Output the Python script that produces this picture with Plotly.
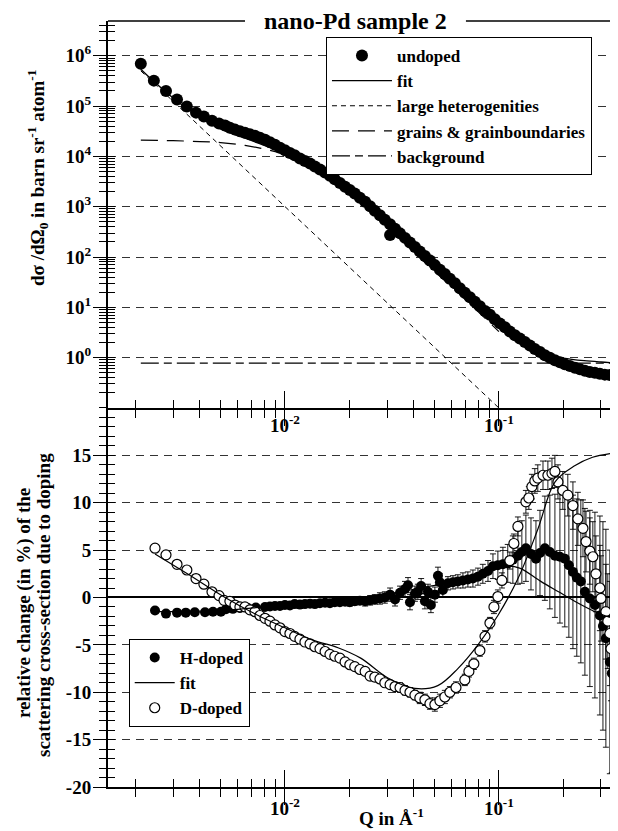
import plotly.graph_objects as go

# ---------------- data ----------------
# top panel: undoped sample, Q in 1/Angstrom, cross-section in barn/sr/atom
q_undoped = [0.00212, 0.00244, 0.00278, 0.00313, 0.00348, 0.00384, 0.00418, 0.00456, 0.00492, 0.00525,
             0.00553, 0.00584, 0.00616, 0.00650, 0.00686, 0.00724, 0.00764, 0.00807, 0.00851, 0.00898,
             0.00948, 0.0100, 0.01055, 0.0111, 0.01175, 0.0124, 0.0131, 0.0138, 0.01458, 0.0154,
             0.01623, 0.0171, 0.01807, 0.0191, 0.0201, 0.0212, 0.0224, 0.0237, 0.0250, 0.0263,
             0.0278, 0.0293, 0.0310, 0.0327, 0.0345, 0.0364, 0.0384, 0.0405, 0.0427, 0.0451,
             0.0476, 0.0502, 0.0530, 0.0559, 0.0590, 0.0623, 0.0657, 0.0693, 0.0732, 0.0772,
             0.0815, 0.0861, 0.0908, 0.0957, 0.1011, 0.1067, 0.1125, 0.1188, 0.1253, 0.1322,
             0.1396, 0.1472, 0.1556, 0.164, 0.173, 0.1827, 0.1928, 0.2032, 0.2148, 0.2265,
             0.2393, 0.2523, 0.2661, 0.281, 0.2965, 0.3126, 0.330, 0.348, 0.360, 0.0310]
s_undoped = [6.9e5, 3.2e5, 2.0e5, 1.35e5, 9.8e4, 7.4e4, 6.2e4, 5.1e4, 4.5e4, 4.1e4,
             3.7e4, 3.4e4, 3.16e4, 2.95e4, 2.75e4, 2.57e4, 2.34e4, 2.14e4, 1.9e4, 1.7e4,
             1.48e4, 1.32e4, 1.17e4, 1.05e4, 9.1e3, 8.1e3, 7.2e3, 6.3e3, 5.5e3, 4.8e3,
             4.1e3, 3.5e3, 2.95e3, 2.5e3, 2.14e3, 1.82e3, 1.51e3, 1.26e3, 1.02e3, 832,
             676, 550, 447, 363, 295, 240, 195, 158, 129, 105,
             85, 69, 56, 46, 37, 30, 24, 19.5, 15.8, 12.9,
             10.5, 8.5, 7.1, 5.8, 4.8, 4.0, 3.3, 2.8, 2.4, 2.04,
             1.74, 1.48, 1.29, 1.12, 1.0, 0.89, 0.81, 0.74, 0.68, 0.63,
             0.59, 0.55, 0.52, 0.50, 0.48, 0.46, 0.45, 0.43, 0.42, 275]

q_fit = [0.00212, 0.0025, 0.0030, 0.0035, 0.0040, 0.0050, 0.0060, 0.0070, 0.0080, 0.0090,
         0.0100, 0.0125, 0.015, 0.020, 0.025, 0.030, 0.035, 0.040, 0.050, 0.060,
         0.070, 0.080, 0.100, 0.120, 0.150, 0.170, 0.200, 0.250, 0.300, 0.350]
s_fit = [5.4e5, 2.8e5, 1.45e5, 8.8e4, 6.0e4, 3.5e4, 2.6e4, 2.05e4, 1.65e4, 1.38e4,
         1.2e4, 8.0e3, 5.3e3, 2.3e3, 1.0e3, 440, 220, 130, 55, 27,
         15, 9.5, 4.2, 2.5, 1.5, 1.15, 0.98, 0.87, 0.82, 0.79]

q_het = [0.00212, 0.100]
s_het = [5.0e5, 0.1]

q_grain = [0.00212, 0.003, 0.004, 0.005, 0.0065, 0.008, 0.010, 0.0125, 0.015, 0.020,
           0.025, 0.030, 0.040, 0.050, 0.070, 0.100]
s_grain = [2.1e4, 2.05e4, 1.97e4, 1.88e4, 1.65e4, 1.4e4, 1.1e4, 7.5e3, 5.0e3, 2.2e3,
           950, 420, 125, 52, 14, 3.3]

q_bg = [0.00212, 0.360]
s_bg = [0.78, 0.78]

# bottom panel: relative change (%) due to doping
q_h = [0.00247, 0.00278, 0.00313, 0.00344, 0.00379, 0.00423, 0.00461, 0.00502, 0.00530, 0.00571,
       0.00616, 0.00671, 0.00731, 0.00807, 0.00851, 0.00898, 0.00948, 0.0100, 0.01055, 0.0111,
       0.01175, 0.0124, 0.0131, 0.0138, 0.01458, 0.0154, 0.01623, 0.0171, 0.01807, 0.0191,
       0.0201, 0.0212, 0.0224, 0.0237, 0.0250, 0.0263, 0.0278, 0.0293, 0.0310, 0.0327,
       0.0345, 0.0364, 0.0376, 0.0384, 0.0405, 0.0418, 0.0433, 0.0451, 0.0466, 0.0481,
       0.0502, 0.0519, 0.0530, 0.0547, 0.0578, 0.0610, 0.0643, 0.0679, 0.0716, 0.0756,
       0.0798, 0.0841, 0.0889, 0.0938, 0.0989, 0.1044, 0.110, 0.1162, 0.1227, 0.128,
       0.1337, 0.1412, 0.149, 0.1556, 0.164, 0.173, 0.1827, 0.1928, 0.2032, 0.2123,
       0.2218, 0.2312, 0.2415, 0.2523, 0.2661, 0.281, 0.2965, 0.3064, 0.3162, 0.330,
       0.337]
d_h = [-1.37, -1.7, -1.6, -1.6, -1.55, -1.55, -1.5, -1.5, -1.25, -1.2,
       -1.1, -1.1, -1.05, -1.0, -0.95, -0.9, -0.9, -0.8, -0.85, -0.7,
       -0.75, -0.7, -0.65, -0.7, -0.6, -0.55, -0.6, -0.5, -0.5, -0.45,
       -0.5, -0.4, -0.35, -0.4, -0.3, -0.2, -0.1, 0.0, 0.3, -0.2,
       0.5, 0.9, 1.3, -0.5, 0.4, 0.6, 1.2, -0.4, 0.6, -0.8,
       0.3, 2.3, 1.6, 0.8, 1.5, 1.6, 1.7, 1.8, 1.9, 2.0,
       2.2, 2.5, 2.8, 3.3, 3.4, 3.5, 3.6, 4.0, 4.4, 4.8,
       5.2, 4.6, 4.1, 4.7, 5.2, 4.8, 4.4, 4.3, 4.1, 3.4,
       2.7, 2.1, 1.7, 0.6, -0.1, -0.8, -1.9, -3.0, -4.3, -6.8,
       -8.0]
e_h = [0.3, 0.3, 0.3, 0.3, 0.3, 0.3, 0.3, 0.3, 0.3, 0.3,
       0.3, 0.3, 0.3, 0.3, 0.3, 0.3, 0.3, 0.3, 0.3, 0.3,
       0.35, 0.35, 0.35, 0.35, 0.35, 0.35, 0.35, 0.35, 0.35, 0.35,
       0.4, 0.4, 0.4, 0.5, 0.5, 0.5, 0.6, 0.6, 0.7, 0.7,
       0.7, 0.8, 0.8, 0.8, 0.8, 0.8, 0.8, 0.8, 0.8, 0.8,
       0.8, 0.9, 0.9, 0.8, 0.7, 0.7, 0.7, 0.8, 0.8, 0.9,
       0.9, 1.0, 1.1, 1.3, 1.5, 1.8, 2.0, 2.5, 3.0, 3.3,
       3.5, 3.8, 4.0, 4.5, 5.5, 6.0, 6.5, 7.0, 7.2, 7.6,
       8.1, 8.3, 8.6, 8.8, 9.3, 9.8, 10.5, 11.0, 11.5, 11.8,
       10.5]

q_d = [0.00247, 0.00278, 0.00313, 0.00348, 0.00384, 0.00418, 0.00456, 0.00492, 0.00519, 0.00553,
       0.00584, 0.00616, 0.00650, 0.00686, 0.00724, 0.00764, 0.00807, 0.00851, 0.00898, 0.00948,
       0.0100, 0.01055, 0.0111, 0.01175, 0.0124, 0.0131, 0.0138, 0.01458, 0.0154, 0.01623,
       0.0171, 0.01807, 0.0191, 0.0201, 0.0212, 0.0224, 0.0237, 0.0250, 0.0263, 0.0278,
       0.0293, 0.0310, 0.0327, 0.0345, 0.0364, 0.0384, 0.0405, 0.0427, 0.0451, 0.0476,
       0.0502, 0.0530, 0.0559, 0.0590, 0.0630, 0.0693, 0.0724, 0.0764, 0.0815, 0.0861,
       0.0908, 0.0948, 0.0989, 0.1033, 0.1125, 0.1175, 0.1227, 0.1337, 0.138, 0.1426,
       0.1472, 0.152, 0.1607, 0.1694, 0.177, 0.1827, 0.1888, 0.199, 0.2099, 0.2218,
       0.2339, 0.2471, 0.2553, 0.2661, 0.2748, 0.284, 0.2965, 0.2999, 0.3162, 0.3228,
       0.330, 0.334]
d_d = [5.2, 4.5, 3.5, 2.9, 2.0, 1.4, 0.6, 0.2, -0.3, -0.4,
       -0.8, -1.0, -1.0, -1.3, -1.5, -1.9, -2.2, -2.5, -2.9, -3.2,
       -3.6, -3.8, -4.1, -4.4, -4.7, -4.9, -5.2, -5.4, -5.7, -6.0,
       -6.2, -6.4, -6.8, -7.1, -7.3, -7.6, -7.8, -8.3, -8.4, -8.6,
       -9.0, -9.2, -9.4, -9.5, -9.8, -10.0, -10.3, -10.6, -10.8, -11.2,
       -11.3, -10.9, -10.5, -10.0, -9.5, -8.7, -7.8, -7.0, -5.6, -4.1,
       -2.7, -1.0, 0.1, 1.8, 3.9, 5.7, 7.5, 10.1, 10.5, 11.7,
       12.3, 12.6, 12.9, 12.9, 13.1, 13.3, 12.2, 11.3, 10.8, 9.7,
       8.3, 7.3, 5.9, 4.9, 4.3, 2.5, 1.0, -0.1, -1.5, -2.5,
       -3.8, -5.4]
e_d = [0.2, 0.2, 0.2, 0.2, 0.2, 0.2, 0.2, 0.2, 0.2, 0.2,
       0.2, 0.2, 0.2, 0.2, 0.2, 0.2, 0.2, 0.2, 0.2, 0.2,
       0.2, 0.2, 0.2, 0.2, 0.2, 0.2, 0.2, 0.2, 0.2, 0.2,
       0.3, 0.3, 0.3, 0.3, 0.3, 0.3, 0.3, 0.3, 0.3, 0.3,
       0.4, 0.4, 0.4, 0.5, 0.5, 0.5, 0.5, 0.6, 0.6, 0.6,
       0.7, 0.7, 0.7, 0.6, 0.6, 0.6, 0.6, 0.6, 0.6, 0.6,
       0.6, 0.7, 0.7, 0.8, 0.9, 1.0, 1.0, 1.2, 1.2, 1.3,
       1.3, 1.4, 1.5, 1.5, 1.6, 1.7, 1.8, 2.0, 2.2, 2.5,
       2.8, 3.0, 3.2, 3.5, 3.7, 4.0, 4.5, 4.5, 5.0, 5.0,
       5.5, 5.5]

q_hfit = [0.00247, 0.004, 0.006, 0.008, 0.010, 0.015, 0.020, 0.027, 0.035, 0.045,
          0.064, 0.080, 0.096, 0.110, 0.125, 0.157, 0.190, 0.226, 0.281, 0.330]
d_hfit = [-1.5, -1.45, -1.25, -1.0, -0.85, -0.55, -0.3, 0.1, 0.6, 1.1,
          1.7, 2.3, 3.0, 3.3, 3.1, 1.7, 0.6, -0.4, -1.5, -2.1]

q_dfit = [0.00247, 0.0035, 0.00525, 0.0075, 0.010, 0.0135, 0.0177, 0.0226, 0.0303, 0.0405,
          0.0518, 0.0643, 0.0798, 0.0989, 0.1228, 0.152, 0.183, 0.226, 0.274, 0.333]
d_dfit = [4.6, 2.5, 0.0, -1.9, -3.2, -4.5, -5.3, -6.4, -8.5, -9.6,
          -9.3, -7.5, -5.0, -1.9, 2.0, 7.2, 12.2, 13.9, 14.8, 15.2]

x_major = [0.01, 0.1]
x_major_text = ["10<sup>-2</sup>", "10<sup>-1</sup>"]
x_minor = [0.002, 0.003, 0.004, 0.005, 0.006, 0.007, 0.008, 0.009,
           0.02, 0.03, 0.04, 0.05, 0.06, 0.07, 0.08, 0.09, 0.2, 0.3]
y_top_major = [1, 10, 100, 1e3, 1e4, 1e5, 1e6]
y_top_text = ["10<sup>0</sup>", "10<sup>1</sup>", "10<sup>2</sup>", "10<sup>3</sup>",
              "10<sup>4</sup>", "10<sup>5</sup>", "10<sup>6</sup>"]
y_top_minor = [m * 10.0 ** k for k in range(-1, 7) for m in range(2, 10) if m * 10.0 ** k < 4.9e6]
y_bot_major = [-20, -15, -10, -5, 0, 5, 10, 15]
y_bot_text = ["-20", "-15", "-10", "-5", "0", "5", "10", "15"]

# ---------------- styling ----------------
FONT = "Liberation Serif, Times New Roman, serif"
W, H = 618, 831
ML, MR, MT, MB = 100, 0, 13, 52
SPLIT = 0.4948
XRANGE = [-2.827, -0.406]

fig = go.Figure()

# top panel
fig.add_trace(go.Scatter(x=q_het, y=s_het, mode="lines", name="large heterogenities",
                         line=dict(color="black", width=1, dash="5px,4px"),
                         legend="legend", legendrank=3, xaxis="x", yaxis="y"))
fig.add_trace(go.Scatter(x=q_grain, y=s_grain, mode="lines", name="grains &amp; grainboundaries",
                         line=dict(color="black", width=1.2, dash="17px,9px", shape="spline"),
                         legend="legend", legendrank=4, xaxis="x", yaxis="y"))
fig.add_trace(go.Scatter(x=q_bg, y=s_bg, mode="lines", name="background",
                         line=dict(color="black", width=1.2, dash="18px,5px,8px,5px"),
                         legend="legend", legendrank=5, xaxis="x", yaxis="y"))
fig.add_trace(go.Scatter(x=q_fit, y=s_fit, mode="lines", name="fit",
                         line=dict(color="black", width=1.3, shape="spline"),
                         legend="legend", legendrank=2, xaxis="x", yaxis="y"))
fig.add_trace(go.Scatter(x=q_undoped, y=s_undoped, mode="markers", name="undoped",
                         marker=dict(color="black", size=12, line=dict(width=0)),
                         legend="legend", legendrank=1, xaxis="x", yaxis="y"))

# bottom panel
fig.add_trace(go.Scatter(x=q_h, y=d_h, mode="markers", name="H-doped",
                         marker=dict(color="black", size=10, line=dict(width=0)),
                         error_y=dict(type="data", array=e_h, color="black", thickness=0.9, width=3),
                         legend="legend2", legendrank=1, xaxis="x2", yaxis="y2"))
fig.add_trace(go.Scatter(x=q_d, y=d_d, mode="markers", name="D-doped",
                         marker=dict(color="white", size=10, line=dict(color="black", width=1.2)),
                         error_y=dict(type="data", array=e_d, color="black", thickness=0.9, width=3),
                         legend="legend2", legendrank=3, xaxis="x2", yaxis="y2"))
fig.add_trace(go.Scatter(x=q_hfit, y=d_hfit, mode="lines", name="fit",
                         line=dict(color="black", width=1.2, shape="spline"),
                         legend="legend2", legendrank=2, xaxis="x2", yaxis="y2"))
fig.add_trace(go.Scatter(x=q_dfit, y=d_dfit, mode="lines", name="fit", showlegend=False,
                         line=dict(color="black", width=1.2, shape="spline"),
                         legend="legend2", xaxis="x2", yaxis="y2"))

# helper traces so the overlay axes (inward half of the crossing ticks) get drawn
for xa, ya in [("x3", "y"), ("x", "y3"), ("x4", "y2"), ("x2", "y4")]:
    fig.add_trace(go.Scatter(x=[None], y=[None], mode="markers", showlegend=False,
                             hoverinfo="skip", xaxis=xa, yaxis=ya))

tickfont = dict(family=FONT, size=19, color="black", weight="bold")
gridstyle = dict(showgrid=True, gridcolor="#333", gridwidth=1.2, griddash="8px,6px")


def xaxis_common(anchor, inside, labels, standoff=0):
    d = dict(type="log", range=XRANGE, anchor=anchor, domain=[0, 1],
             showline=not inside, linecolor="black", linewidth=2,
             tickvals=x_major, ticktext=x_major_text,
             showticklabels=labels, tickfont=tickfont,
             ticks="inside" if inside else "outside", ticklen=17 if inside else 16,
             tickwidth=1.2, tickcolor="black", showgrid=False, zeroline=False,
             minor=dict(tickvals=x_minor, ticks="inside" if inside else "outside",
                        ticklen=8, tickwidth=1.2, tickcolor="black", showgrid=False))
    if labels:
        d["ticklabelstandoff"] = standoff
    return d


fig.update_layout(
    width=W, height=H, template="none",
    margin=dict(l=ML, r=MR, t=MT, b=MB),
    paper_bgcolor="white", plot_bgcolor="white",
    font=dict(family=FONT, size=19, color="black", weight="bold"),
    xaxis=xaxis_common("y", False, True, -17),
    xaxis3={**xaxis_common("y", True, False), "overlaying": "x"},
    xaxis2=xaxis_common("y2", False, True, -13),
    xaxis4={**xaxis_common("y2", True, False), "overlaying": "x2"},
    yaxis=dict(type="log", range=[-1, 6.69], domain=[SPLIT, 1], anchor="x",
               showline=True, linecolor="black", linewidth=2,
               tickvals=y_top_major, ticktext=y_top_text, tickfont=tickfont,
               ticks="outside", ticklen=13, tickwidth=1.2, tickcolor="black",
               ticklabelstandoff=-2,
               zeroline=False, **gridstyle,
               minor=dict(tickvals=y_top_minor, ticks="outside", ticklen=7,
                          tickwidth=1.2, tickcolor="black", showgrid=False)),
    yaxis3=dict(type="log", range=[-1, 6.69], domain=[SPLIT, 1], anchor="x", overlaying="y",
                showline=False, tickvals=y_top_major, showticklabels=False,
                ticks="inside", ticklen=7, tickwidth=1.2, tickcolor="black",
                showgrid=False, zeroline=False,
                minor=dict(tickvals=y_top_minor, ticks="inside", ticklen=7,
                           tickwidth=1.2, tickcolor="black", showgrid=False)),
    yaxis2=dict(range=[-20, 20], domain=[0, SPLIT], anchor="x2",
                showline=True, linecolor="black", linewidth=2,
                tickvals=y_bot_major, ticktext=y_bot_text, tickfont=tickfont,
                ticks="outside", ticklen=13, tickwidth=1.2, tickcolor="black",
                ticklabelstandoff=-2,
                zeroline=True, zerolinecolor="black", zerolinewidth=1.5, **gridstyle,
                minor=dict(dtick=1, ticks="outside", ticklen=7, tickwidth=1.2,
                           tickcolor="black", showgrid=False)),
    yaxis4=dict(range=[-20, 20], domain=[0, SPLIT], anchor="x2", overlaying="y2",
                showline=False, tickvals=y_bot_major, showticklabels=False,
                ticks="inside", ticklen=7, tickwidth=1.2, tickcolor="black",
                showgrid=False, zeroline=False,
                minor=dict(dtick=1, ticks="inside", ticklen=7, tickwidth=1.2,
                           tickcolor="black", showgrid=False)),
    legend=dict(x=0.4208, y=0.9791, xanchor="left", yanchor="top",
                bgcolor="white", bordercolor="black", borderwidth=1,
                font=dict(family=FONT, size=17, color="black", weight="bold"),
                tracegroupgap=0, itemwidth=60),
    legend2=dict(x=0.040, y=0.1932, xanchor="left", yanchor="top",
                 bgcolor="white", bordercolor="black", borderwidth=1,
                 font=dict(family=FONT, size=17, color="black", weight="bold"),
                 tracegroupgap=0, itemwidth=40),
    showlegend=True,
)

# frame line along the top with the title set into it
fig.add_shape(type="line", xref="paper", yref="paper", x0=0, x1=0.2645, y0=1, y1=1,
              line=dict(color="black", width=1.5))
fig.add_shape(type="line", xref="paper", yref="paper", x0=0.691, x1=1, y0=1, y1=1,
              line=dict(color="black", width=1.5))
fig.add_annotation(text="nano-Pd sample 2", xref="paper", yref="paper", x=0.477, y=1,
                   xanchor="center", yanchor="middle", showarrow=False,
                   font=dict(family=FONT, size=24, color="black", weight="bold"))

# axis titles
fig.add_annotation(text="dσ /dΩ<sub>0</sub> in barn sr<sup>-1</sup> atom<sup>-1</sup>",
                   xref="paper", yref="paper", x=(30 - 100) / 518, y=(779 - 170) / 766,
                   xanchor="center", yanchor="middle", textangle=-90, showarrow=False,
                   font=dict(family=FONT, size=19, color="black", weight="bold"))
fig.add_annotation(text="relative change (in %) of the",
                   xref="paper", yref="paper", x=(16 - 100) / 518, y=(779 - 595) / 766,
                   xanchor="center", yanchor="middle", textangle=-90, showarrow=False,
                   font=dict(family=FONT, size=19, color="black", weight="bold"))
fig.add_annotation(text="scattering cross-section due to doping",
                   xref="paper", yref="paper", x=(35 - 100) / 518, y=(779 - 597) / 766,
                   xanchor="center", yanchor="middle", textangle=-90, showarrow=False,
                   font=dict(family=FONT, size=19, color="black", weight="bold"))
fig.add_annotation(text="Q in Å<sup>-1</sup>",
                   xref="paper", yref="paper", x=(383 - 100) / 518, y=(779 - 809) / 766,
                   xanchor="center", yanchor="middle", showarrow=False,
                   font=dict(family=FONT, size=19, color="black", weight="bold"))

fig.write_html("out.html")
